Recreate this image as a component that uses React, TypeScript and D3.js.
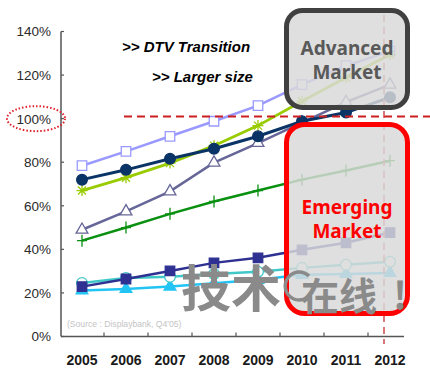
import React from "react";
import * as d3 from "d3";

const years = ["2005", "2006", "2007", "2008", "2009", "2010", "2011", "2012"];
const yTicks = [0, 20, 40, 60, 80, 100, 120, 140];

const sLavender = [78.4, 85, 91.9, 98.8, 106, 115.6, 124.3, 131];
const sNavy = [72, 76.5, 81.6, 86.2, 91.9, 98.8, 102.8, 109.8];
const sLime = [67, 72.9, 79.6, 87.6, 96.8, 108, 118.9, 129.4];
const sPurple = [49, 57.4, 66.6, 79.8, 88.8, 98.2, 107.6, 115.6];
const sGreen = [44, 50, 56.3, 62, 67, 72, 76.2, 80.7];
const sBlue = [22.9, 26.4, 30.1, 33.8, 36.1, 39.8, 43, 47.7];
const sTeal = [24.6, 26.9, 27.4, 28.7, 29.7, 31.5, 32.9, 34.3];
const sSky = [21.1, 21.8, 22.9, 24.4, 26, 28.3, 28.7, 29.2];

const notes = [">> DTV Transition", ">> Larger size"];
const sourceText = "(Source : Displaybank, Q4'05)";
const advancedLabel = ["Advanced", "Market"];
const emergingLabel = ["Emerging", "Market"];

type Marker = "sq" | "circle" | "star" | "tri" | "plus";
interface Series {
  values: number[];
  color: string;
  marker: Marker;
  fill: string;
  width: number;
}

const series: Series[] = [
  { values: sSky, color: "#22c4f4", marker: "tri", fill: "#22c4f4", width: 2.5 },
  { values: sTeal, color: "#40c8c8", marker: "circle", fill: "#ffffff", width: 2.5 },
  { values: sBlue, color: "#2e3192", marker: "sq", fill: "#2e3192", width: 2.5 },
  { values: sGreen, color: "#0a9010", marker: "plus", fill: "none", width: 2.5 },
  { values: sPurple, color: "#666699", marker: "tri", fill: "#ffffff", width: 2.5 },
  { values: sLavender, color: "#9999ff", marker: "sq", fill: "#ffffff", width: 2.5 },
  { values: sLime, color: "#99cc00", marker: "star", fill: "none", width: 2.8 },
  { values: sNavy, color: "#0a3366", marker: "circle", fill: "#0a3366", width: 3 },
];

function markerPath(m: Marker): string {
  switch (m) {
    case "sq":
      return d3.symbol(d3.symbolSquare, 90)() as string;
    case "circle":
      return d3.symbol(d3.symbolCircle, 90)() as string;
    case "tri":
      return d3.symbol(d3.symbolTriangle, 60)() as string;
    case "plus":
      return "M-5,0H5M0,-6V6";
    case "star":
      return "M-5.5,0H5.5M0,-5.5V5.5M-4,-4L4,4M-4,4L4,-4";
  }
}

export default function App() {
  const W = 430;
  const H = 382;
  const x = d3.scalePoint<string>().domain(years).range([82, 390]);
  const y = d3.scaleLinear().domain([0, 140]).range([336.5, 31.5]);
  const step = x.step();
  const axisX = x(years[0])! - step / 2 + 1;
  const axisEnd = x(years[years.length - 1])! + 14;
  const line = d3
    .line<number>()
    .x((_, i) => x(years[i])!)
    .y((d) => y(d));

  const boxLeft = x("2010")! - 15.5;
  const boxRight = x("2012")! + 17.5;
  const boxMid = (boxLeft + boxRight) / 2;
  const vX = x("2012")! - 6;

  const narrow = "'Liberation Sans Narrow', 'Arial Narrow', 'Liberation Sans', Arial, sans-serif";
  const arial = "'Liberation Sans', Arial, sans-serif";
  const boxFont = "'Noto Sans', sans-serif";

  return (
    <svg
      width={W}
      height={H}
      style={{ position: "absolute", left: 0, top: 0, background: "#fff" }}
    >
      <rect x={0} y={0} width={W} height={H} fill="#fff" />

      {/* axes */}
      <line x1={axisX} x2={axisX} y1={y(140)} y2={y(0)} stroke="#555" strokeWidth={1.5} />
      <line x1={axisX} x2={axisEnd} y1={y(0)} y2={y(0)} stroke="#555" strokeWidth={1.5} />
      {yTicks.map((t) => (
        <g key={t}>
          <line x1={axisX} x2={axisX + 3} y1={y(t)} y2={y(t)} stroke="#555" strokeWidth={1.2} />
          <text
            x={axisX - 10}
            y={y(t)}
            dy="0.36em"
            textAnchor="end"
            fontFamily={narrow}
            fontSize={13.5}
            fill="#2a2a2a"
          >
            {t}%
          </text>
        </g>
      ))}
      {years.slice(0, -1).map((yr) => (
        <line
          key={yr}
          x1={x(yr)! + step / 2}
          x2={x(yr)! + step / 2}
          y1={y(0) - 4}
          y2={y(0)}
          stroke="#555"
          strokeWidth={1.2}
        />
      ))}
      {years.map((yr) => (
        <text
          key={yr}
          x={x(yr)!}
          y={365}
          textAnchor="middle"
          fontFamily={narrow}
          fontSize={14}
          fontWeight="bold"
          fill="#1a1a1a"
        >
          {yr}
        </text>
      ))}

      {/* series */}
      {series.map((s, si) => (
        <g key={si}>
          <path d={line(s.values) as string} fill="none" stroke={s.color} strokeWidth={s.width} />
          {s.values.map((v, i) => (
            <path
              key={i}
              transform={`translate(${x(years[i])},${y(v)})`}
              d={markerPath(s.marker)}
              fill={s.fill}
              stroke={s.color}
              strokeWidth={1.3}
            />
          ))}
        </g>
      ))}

      {/* source */}
      <text x={67} y={327} fontFamily={arial} fontSize={8.6} fill="#c4c4c4">
        {sourceText}
      </text>

      {/* notes */}
      <text x={122} y={52} fontFamily={arial} fontSize={15} fontWeight="bold" fontStyle="italic" fill="#000">
        {notes[0]}
      </text>
      <text x={152} y={82} fontFamily={arial} fontSize={15} fontWeight="bold" fontStyle="italic" fill="#000">
        {notes[1]}
      </text>

      {/* 100% guide lines */}
      <line
        x1={124}
        x2={W}
        y1={y(101)}
        y2={y(101)}
        stroke="#cc1f1f"
        strokeWidth={2}
        strokeDasharray="8,5"
      />
      <line
        x1={vX}
        x2={vX}
        y1={15}
        y2={344}
        stroke="#d04a4a"
        strokeWidth={1.5}
        strokeDasharray="7,5"
      />
      <ellipse
        cx={36}
        cy={y(100)}
        rx={29}
        ry={12.5}
        fill="none"
        stroke="#e0202a"
        strokeWidth={2}
        strokeDasharray="1.5,2"
      />

      {/* market boxes */}
      <rect
        x={boxLeft}
        y={10.5}
        width={boxRight - boxLeft}
        height={97}
        rx={16}
        fill="#d9d9d9"
        fillOpacity={0.84}
        stroke="#404040"
        strokeWidth={5}
      />
      <rect
        x={boxLeft}
        y={124.5}
        width={boxRight - boxLeft}
        height={189}
        rx={18}
        fill="#d9d9d9"
        fillOpacity={0.84}
        stroke="#ff0000"
        strokeWidth={5}
      />
      <text x={boxMid} y={55} textAnchor="middle" fontFamily={boxFont} fontWeight="bold" fontSize={19} fill="#595959">
        {advancedLabel[0]}
      </text>
      <text x={boxMid} y={79} textAnchor="middle" fontFamily={boxFont} fontWeight="bold" fontSize={19} fill="#595959">
        {advancedLabel[1]}
      </text>
      <text x={boxMid} y={214} textAnchor="middle" fontFamily={boxFont} fontWeight="bold" fontSize={19} fill="#ff0000">
        {emergingLabel[0]}
      </text>
      <text x={boxMid} y={238} textAnchor="middle" fontFamily={boxFont} fontWeight="bold" fontSize={19} fill="#ff0000">
        {emergingLabel[1]}
      </text>

      {/* watermark */}
      <g fill="#8a8a8a" fontFamily="'Noto Sans CJK SC', sans-serif" fontWeight="bold">
        <text x={181} y={307} fontSize={50}>技术</text>
        <path d="M309,276 A14,14 0 1 0 309,296" fill="none" stroke="#8a8a8a" strokeWidth={3.5} />
        <text x={301} y={310} fontSize={38}>在线</text>
        <text x={393} y={310} fontSize={38}>!</text>
      </g>
    </svg>
  );
}
